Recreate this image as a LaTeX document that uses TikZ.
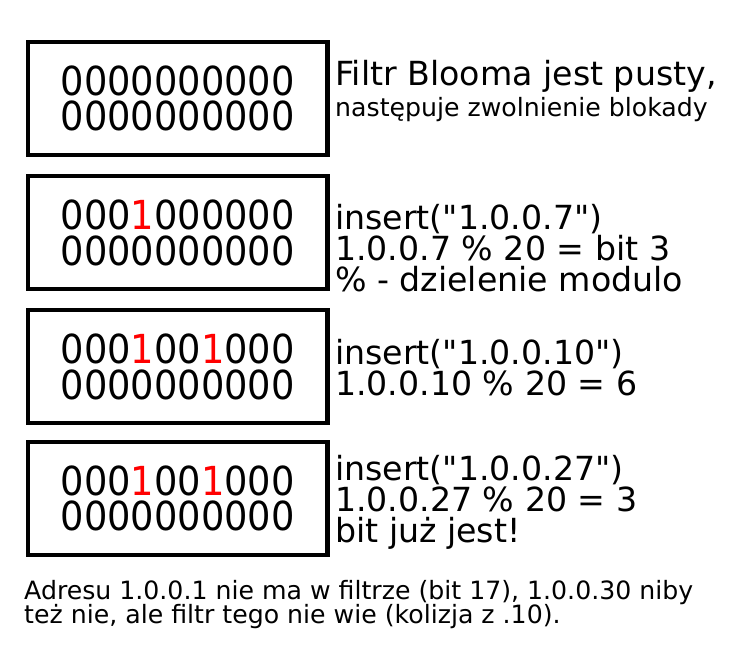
\documentclass[tikz,border=0pt]{standalone}
\usepackage{fontspec}
\setmainfont{DejaVu Sans}[Ligatures=TeXOff]
\newfontfamily\bitfont[FakeStretch=0.92]{DejaVu Sans}
\usepackage{tikz}
\newcommand{\setbit}{\textcolor{red}{1}}
\tikzset{
    bitbox/.style={draw, line width=4.3pt, minimum width=299.5pt, minimum height=113pt,
        inner sep=0pt, align=center, font=\bitfont\fontsize{40}{35.5}\selectfont},
    note/.style={inner sep=0pt, anchor=base west, align=left, font=\fontsize{33.2}{31}\selectfont},
    smallnote/.style={inner sep=0pt, anchor=base west, align=left, font=\fontsize{25.2}{24.5}\selectfont}
}
\begin{document}
\begin{tikzpicture}[x=1pt, y=-1pt]
                \useasboundingbox (0,0) rectangle (735,656);
                \node[bitbox] (empty) at (177.75,98.25) {0000000000\\0000000000};
                \node[bitbox] (ins7) at (177.75,232.75) {000\setbit000000\\0000000000};
                \node[bitbox] (ins10) at (177.75,366.75) {000\setbit00\setbit000\\0000000000};
                \node[bitbox] (ins27) at (177.75,498.5) {000\setbit00\setbit000\\0000000000};

                % base anchor = last line of each block
                \node[note] (emptytxt) at (335,85.7) {Filtr Blooma jest pusty,};
                \node[smallnote] (emptysub) at (335,116.7) {następuje zwolnienie blokady};
                \node[note] (ins7txt) at (335,291.3) {insert("1.0.0.7")\\1.0.0.7 \% 20 = bit 3\\\% - dzielenie modulo};
                \node[note] (ins10txt) at (335,395) {insert("1.0.0.10")\\1.0.0.10 \% 20 = 6};
                \node[note] (ins27txt) at (335,542) {insert("1.0.0.27")\\1.0.0.27 \% 20 = 3\\bit już jest!};

                \node[smallnote] (summary) at (24,623.5) {Adresu 1.0.0.1 nie ma w filtrze (bit 17), 1.0.0.30 niby\\też nie, ale filtr tego nie wie (kolizja z .10).};
            \end{tikzpicture}
\end{document}
